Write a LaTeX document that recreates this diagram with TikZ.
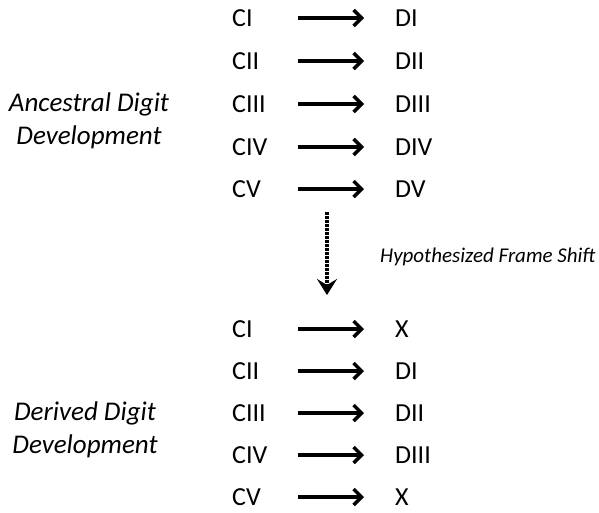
\documentclass[tikz,border=0pt]{standalone}
\usepackage{fontspec}
\setmainfont{Carlito}
\usetikzlibrary{arrows.meta}
\begin{document}
\begin{tikzpicture}[x=1pt,y=-1pt,
  lab/.style={anchor=west,inner sep=0pt,font=\fontsize{26}{28}\selectfont},
  side/.style={anchor=center,inner sep=0pt,align=center,font=\fontsize{27}{33}\selectfont\itshape},
  harrow/.style={line width=3.4pt,-{Straight Barb[length=8pt,width=16pt,line width=3.4pt]}},
  varrow/.style={line width=4pt,dash pattern=on 2.5pt off 1.5pt,-{Stealth[length=16pt,width=20pt,inset=6pt]}}
]
\useasboundingbox (0,0) rectangle (599,512);
% top group
\foreach \i/\c/\d/\y in {1/CI/DI/18,2/CII/DII/61,3/CIII/DIII/104,4/CIV/DIV/147,5/CV/DV/189}{
  \node[lab] (tc\i) at (232,\y) {\c};
  \node[lab] (td\i) at (395,\y) {\d};
  \coordinate (tas\i) at (298,\y);
  \coordinate (tae\i) at (364,\y);
  \draw[harrow] (tas\i) -- (tae\i);
}
% bottom group
\foreach \i/\c/\d/\y in {1/CI/X/329,2/CII/DI/371,3/CIII/DII/413,4/CIV/DIII/455,5/CV/X/497}{
  \node[lab] (bc\i) at (232,\y) {\c};
  \node[lab] (bd\i) at (395,\y) {\d};
  \coordinate (bas\i) at (298,\y);
  \coordinate (bae\i) at (364,\y);
  \draw[harrow] (bas\i) -- (bae\i);
}
\node[side] (anc) at (89,121) {Ancestral Digit\\Development};
\node[side] (der) at (85,430) {Derived Digit\\Development};
\node[anchor=west,inner sep=0pt,font=\fontsize{21}{24}\selectfont\itshape] (hfs) at (380,257) {Hypothesized Frame Shift};
\coordinate (vs) at (327,212);
\coordinate (ve) at (327,295);
\draw[varrow] (vs) -- (ve);
\end{tikzpicture}
\end{document}
